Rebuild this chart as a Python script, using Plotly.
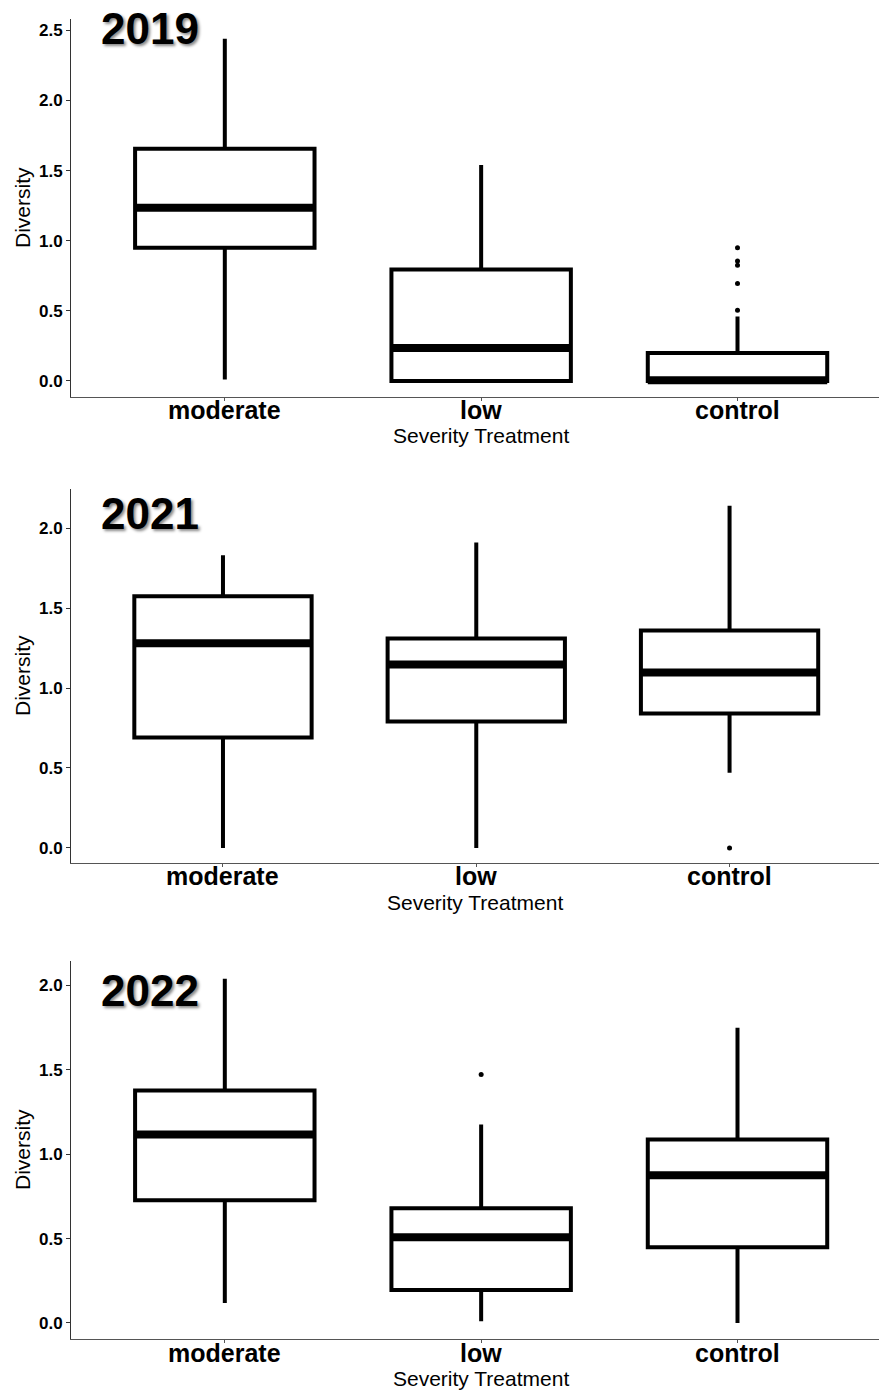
import plotly.graph_objects as go

categories = ["moderate", "low", "control"]
years = ["2019", "2021", "2022"]

# per-year box statistics (moderate, low, control)
lower_2019 = [0.01, 0.0, 0.0]
q1_2019 = [0.95, 0.0, 0.0]
median_2019 = [1.235, 0.235, 0.005]
q3_2019 = [1.655, 0.795, 0.20]
upper_2019 = [2.44, 1.54, 0.46]
outliers_2019 = {"control": [0.95, 0.855, 0.825, 0.695, 0.505]}

lower_2021 = [0.0, 0.0, 0.47]
q1_2021 = [0.69, 0.79, 0.84]
median_2021 = [1.28, 1.147, 1.097]
q3_2021 = [1.574, 1.31, 1.36]
upper_2021 = [1.83, 1.91, 2.14]
outliers_2021 = {"control": [0.0]}

lower_2022 = [0.118, 0.01, 0.0]
q1_2022 = [0.727, 0.195, 0.449]
median_2022 = [1.117, 0.508, 0.875]
q3_2022 = [1.377, 0.68, 1.087]
upper_2022 = [2.04, 1.176, 1.75]
outliers_2022 = {"low": [1.472]}

stats = [
    (lower_2019, q1_2019, median_2019, q3_2019, upper_2019, outliers_2019),
    (lower_2021, q1_2021, median_2021, q3_2021, upper_2021, outliers_2021),
    (lower_2022, q1_2022, median_2022, q3_2022, upper_2022, outliers_2022),
]

y_ranges = [[-0.114, 2.58], [-0.094, 2.245], [-0.095, 2.145]]
x_ranges = [[-0.6, 2.552], [-0.6, 2.59], [-0.6, 2.552]]
y_domains = [[0.7146, 0.9863], [0.3796, 0.6485], [0.0374, 0.3091]]
y_tickvals = [[0, 0.5, 1.0, 1.5, 2.0, 2.5], [0, 0.5, 1.0, 1.5, 2.0], [0, 0.5, 1.0, 1.5, 2.0]]

H = 1391
PLOT_W = 808
xtick_px = [410, 876, 1353]
xtitle_px = [436, 903, 1378]
xtitle_cx = [481, 475, 481]
year_px = [28, 513, 990]
ytitle_px = [208, 676, 1150]

BOXW = 0.70
pos = [0, 1, 2]

fig = go.Figure()
layout = dict(
    width=879, height=1391,
    margin=dict(l=71, r=0, t=0, b=0),
    paper_bgcolor="white", plot_bgcolor="white",
    showlegend=False,
    font=dict(family="Liberation Sans", color="black"),
    annotations=[],
)

for i, (lo, q1, med, q3, up, outl) in enumerate(stats):
    xa = "x" if i == 0 else f"x{i+1}"
    ya = "y" if i == 0 else f"y{i+1}"
    fig.add_trace(go.Box(
        x=pos, q1=q1, median=med, q3=q3, lowerfence=lo, upperfence=up,
        width=BOXW, whiskerwidth=0, fillcolor="white",
        line=dict(color="black", width=4), boxpoints=False,
        xaxis=xa, yaxis=ya, hoverinfo="skip",
    ))
    # thick median bars
    for j in range(3):
        fig.add_trace(go.Scatter(
            x=[pos[j] - BOXW / 2, pos[j] + BOXW / 2], y=[med[j], med[j]],
            mode="lines", line=dict(color="black", width=8),
            xaxis=xa, yaxis=ya, hoverinfo="skip",
        ))
    for cat, vals in outl.items():
        j = categories.index(cat)
        fig.add_trace(go.Scatter(
            x=[pos[j]] * len(vals), y=vals, mode="markers",
            marker=dict(color="black", size=5),
            xaxis=xa, yaxis=ya, hoverinfo="skip",
        ))
    xkey = "xaxis" if i == 0 else f"xaxis{i+1}"
    ykey = "yaxis" if i == 0 else f"yaxis{i+1}"
    layout[xkey] = dict(
        domain=[0, 1], anchor=ya, range=x_ranges[i],
        tickmode="array", tickvals=pos, ticktext=categories, showticklabels=False,
        showgrid=False, zeroline=False, showline=True,
        linecolor="#555555", linewidth=1,
        ticks="outside", ticklen=3, tickcolor="#555555",
    )
    layout[ykey] = dict(
        domain=y_domains[i], anchor=xa, range=y_ranges[i],
        tickmode="array", tickvals=y_tickvals[i], tickformat=".1f",
        showgrid=False, zeroline=False, showline=True,
        linecolor="#333333", linewidth=1,
        ticks="outside", ticklen=4, tickcolor="#333333",
        tickfont=dict(size=17, family="Liberation Sans", color="black", weight="bold"),
    )
    for j, cat in enumerate(categories):
        layout["annotations"].append(dict(
            text="<b>" + cat + "</b>", xref=xa, yref="paper",
            x=pos[j], y=1 - xtick_px[i] / H, xanchor="center", yanchor="middle",
            showarrow=False, font=dict(size=25, family="Liberation Sans", color="black"),
        ))
    layout["annotations"].append(dict(
        text="Severity Treatment", xref="paper", yref="paper",
        x=(xtitle_cx[i] - 71) / PLOT_W, y=1 - xtitle_px[i] / H,
        xanchor="center", yanchor="middle",
        showarrow=False, font=dict(size=21, family="Liberation Sans", color="black"),
    ))
    layout["annotations"].append(dict(
        text="Diversity", xref="paper", yref="paper", textangle=-90,
        x=-49 / PLOT_W, y=1 - ytitle_px[i] / H, xanchor="center", yanchor="middle",
        showarrow=False, font=dict(size=21, family="Liberation Sans", color="black"),
    ))
    layout["annotations"].append(dict(
        text="<b>" + years[i] + "</b>", xref="paper", yref="paper",
        x=79 / PLOT_W, y=1 - year_px[i] / H, xanchor="center", yanchor="middle",
        showarrow=False,
        font=dict(size=44, family="Liberation Sans", color="black",
                  shadow="2px 2px 3px #888888"),
    ))

fig.update_layout(**layout)
fig.write_html(
    "out.html",
    config={"displayModeBar": False},
    post_script="document.body.style.margin='0';document.body.style.overflow='hidden';",
)
